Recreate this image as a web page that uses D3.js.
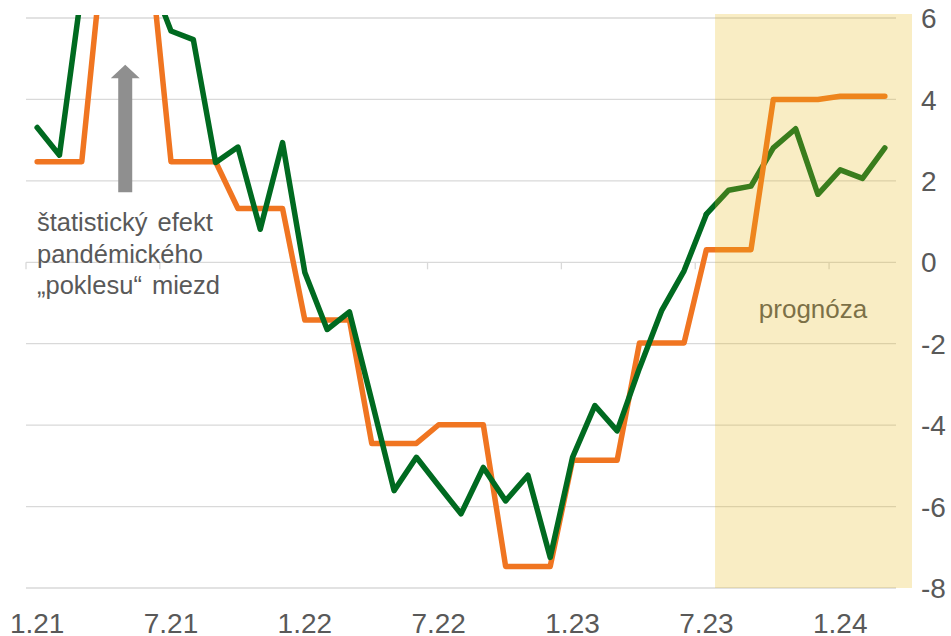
<!DOCTYPE html>
<html>
<head>
<meta charset="utf-8">
<script src="https://cdn.jsdelivr.net/npm/d3@7"></script>
<style>
  html, body { margin: 0; padding: 0; background: #fff; }
  svg { display: block; font-family: "Liberation Sans", Arial, sans-serif; }
</style>
</head>
<body>
<div id="chart"></div>
<script>
// months 1.21 .. 3.24
const months = [
  '1.21','2.21','3.21','4.21','5.21','6.21','7.21','8.21','9.21','10.21','11.21','12.21',
  '1.22','2.22','3.22','4.22','5.22','6.22','7.22','8.22','9.22','10.22','11.22','12.22',
  '1.23','2.23','3.23','4.23','5.23','6.23','7.23','8.23','9.23','10.23','11.23','12.23',
  '1.24','2.24','3.24'
]
const tickMonths = ['1.21','7.21','1.22','7.22','1.23','7.23','1.24']
const yTicks = [6, 4, 2, 0, -2, -4, -6, -8]

// green line, actual (1.21 - 7.23)
const greenActual = [
  3.31, 2.63, 6.7, 9.0, 8.6, 7.1, 5.68, 5.47, 2.45, 2.83, 0.81, 2.94,
  -0.25, -1.65, -1.22, -3.4, -5.61, -4.79, -5.49, -6.18, -5.04, -5.86, -5.23, -7.25,
  -4.79, -3.52, -4.14, -2.6, -1.18, -0.21, 1.18
]
// green line, forecast (7.23 - 3.24)
const greenForecast = [1.18, 1.77, 1.87, 2.81, 3.28, 1.67, 2.27, 2.06, 2.81]
// orange line (quarterly steps)
const orange = [
  2.47, 2.47, 2.47, 7.9, 7.9, 7.9, 2.47, 2.47, 2.47, 1.32, 1.32, 1.32,
  -1.42, -1.42, -1.42, -4.45, -4.45, -4.45, -3.99, -3.99, -3.99, -7.47, -7.47, -7.47,
  -4.86, -4.86, -4.86, -1.98, -1.98, -1.98, 0.31, 0.31, 0.31, 4.0, 4.0, 4.0,
  4.08, 4.08, 4.08
]
const forecastStart = '8.23'
const noteLines = ['štatistický efekt', 'pandémického', '„poklesu“ miezd']

const W = 951, H = 636
const TEXT = '#595959', GRID = '#d9d9d9'
const GREEN = '#006a20', ORANGE = '#f07521'

const svg = d3.select('#chart').append('svg')
  .attr('width', W).attr('height', H)

const x = d3.scaleBand().domain(months).range([26, 896]).padding(0)
const cx = m => x(m) + x.bandwidth() / 2
const y = d3.scaleLinear().domain([-8, 6]).range([588, 18])

// clip so the 2021 spike is cut at the top of the plot
svg.append('clipPath').attr('id', 'plot-clip')
  .append('rect').attr('x', 0).attr('y', 15).attr('width', W).attr('height', H - 15)

// gridlines
svg.append('g').selectAll('line').data(yTicks).join('line')
  .attr('x1', x.range()[0]).attr('x2', x.range()[1])
  .attr('y1', d => y(d)).attr('y2', d => y(d))
  .attr('stroke', GRID).attr('stroke-width', 1.3)

// small ticks hanging from the zero line
svg.append('g').selectAll('line').data(tickMonths).join('line')
  .attr('x1', d => x(d)).attr('x2', d => x(d))
  .attr('y1', y(0)).attr('y2', y(0) + 7)
  .attr('stroke', GRID).attr('stroke-width', 1.3)

// x labels
svg.append('g').selectAll('text').data(tickMonths).join('text')
  .attr('x', d => cx(d)).attr('y', 633)
  .attr('text-anchor', 'middle')
  .style('font-size', '28px').style('fill', TEXT)
  .text(d => d)

// y labels (right side)
svg.append('g').selectAll('text').data(yTicks).join('text')
  .attr('x', 921).attr('y', d => y(d)).attr('dy', '0.36em')
  .style('font-size', '28px').style('fill', TEXT)
  .text(d => String(d))

const line = d3.line().x(d => cx(d.m)).y(d => y(d.v))
const plot = svg.append('g').attr('clip-path', 'url(#plot-clip)')

const offset = months.length - greenForecast.length
plot.append('path')
  .datum(greenForecast.map((v, i) => ({ m: months[offset + i], v })))
  .attr('d', line).attr('fill', 'none')
  .attr('stroke', GREEN).attr('stroke-width', 5.5)
  .attr('stroke-linejoin', 'round').attr('stroke-linecap', 'round')

plot.append('path')
  .datum(orange.map((v, i) => ({ m: months[i], v })))
  .attr('d', line).attr('fill', 'none')
  .attr('stroke', ORANGE).attr('stroke-width', 5.5)
  .attr('stroke-linejoin', 'round').attr('stroke-linecap', 'round')

plot.append('path')
  .datum(greenActual.map((v, i) => ({ m: months[i], v })))
  .attr('d', line).attr('fill', 'none')
  .attr('stroke', GREEN).attr('stroke-width', 5.5)
  .attr('stroke-linejoin', 'round').attr('stroke-linecap', 'round')

// annotation: arrow + note
const ax = x('5.21') + 10
const aTip = y(4.85), aHead = y(4.52), aBase = y(1.72)
svg.append('path')
  .attr('d', `M${ax - 7},${aBase} L${ax - 7},${aHead} L${ax - 14.5},${aHead} L${ax},${aTip}
              L${ax + 14.5},${aHead} L${ax + 7},${aHead} L${ax + 7},${aBase} Z`)
  .attr('fill', '#8f8f8f')

svg.append('g').selectAll('text').data(noteLines).join('text')
  .attr('x', 37).attr('y', (d, i) => 231 + i * 31.5)
  .style('font-size', '25.5px').style('fill', TEXT).style('word-spacing', '3px')
  .text(d => d)

// forecast label, then the translucent forecast band on top
const bandLeft = x(forecastStart) - 2.5
const bandRight = x.range()[1] + 16
svg.append('text')
  .attr('x', (bandLeft + bandRight) / 2 - 0.5).attr('y', y(-1.38))
  .attr('text-anchor', 'middle')
  .style('font-size', '26px').style('fill', TEXT)
  .text('prognóza')

svg.append('rect')
  .attr('x', bandLeft).attr('y', 14)
  .attr('width', bandRight - bandLeft).attr('height', y(-8) - 14)
  .attr('fill', 'rgb(232,185,20)').attr('fill-opacity', 0.25)
</script>
</body>
</html>
